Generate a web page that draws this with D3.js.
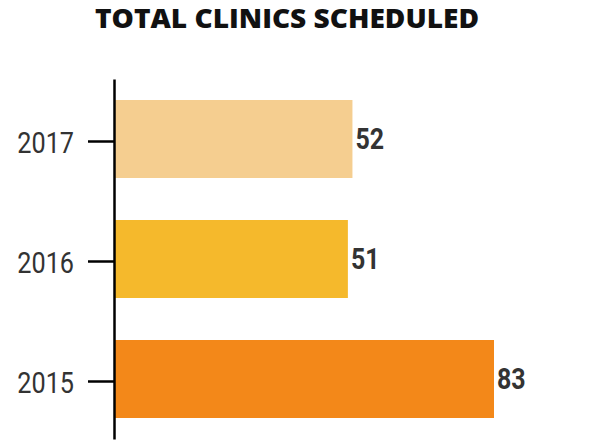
<!DOCTYPE html>
<html>
<head>
<meta charset="utf-8">
<script src="https://cdn.jsdelivr.net/npm/d3@7"></script>
<style>
  body { margin: 0; background: #fff; }
  svg { display: block; }
</style>
</head>
<body>
<div id="chart"></div>
<script>
// 数据
const years = ['2017', '2016', '2015'];
const clinics = [52, 51, 83];
const barColors = ['#f5ce90', '#f5b92c', '#f38819'];
const chartTitle = 'TOTAL CLINICS SCHEDULED';

const width = 589;
const height = 443;

const svg = d3.select('#chart')
    .append('svg')
    .attr('width', width)
    .attr('height', height);

// 标题
svg.append('text')
    .attr('x', 287)
    .attr('y', 28)
    .attr('text-anchor', 'middle')
    .attr('font-family', '"Open Sans", sans-serif')
    .attr('font-weight', 800)
    .attr('font-size', 26)
    .attr('fill', '#111')
    .attr('textLength', 384)
    .attr('lengthAdjust', 'spacingAndGlyphs')
    .text(chartTitle);

// 比例尺
const y = d3.scaleBand()
    .domain(years)
    .range([79, 439])
    .paddingInner(0.35)
    .paddingOuter(0.175);

const x = d3.scaleLinear()
    .domain([0, 83])
    .range([115, 494]);

// 条形
svg.append('g')
    .selectAll('rect')
    .data(years)
    .enter()
    .append('rect')
    .attr('x', x(0))
    .attr('y', d => y(d))
    .attr('width', (d, i) => x(clinics[i]) - x(0))
    .attr('height', y.bandwidth())
    .attr('fill', (d, i) => barColors[i]);

// 数值标签
svg.append('g')
    .selectAll('text')
    .data(years)
    .enter()
    .append('text')
    .attr('x', (d, i) => x(clinics[i]) + 3)
    .attr('y', d => y(d) + y.bandwidth() / 2)
    .attr('dy', '0.34em')
    .attr('font-family', 'Roboto, sans-serif')
    .attr('font-weight', 700)
    .attr('font-size', 29)
    .attr('fill', '#333')
    .text((d, i) => clinics[i])
    .each(function () {
        const w = this.getComputedTextLength();
        d3.select(this).attr('textLength', w * 0.86).attr('lengthAdjust', 'spacingAndGlyphs');
    });

// 纵轴
const axis = svg.append('g')
    .attr('transform', 'translate(114,0)')
    .call(d3.axisLeft(y).tickSize(26).tickPadding(14).tickSizeOuter(0));

axis.select('.domain')
    .attr('stroke', '#000')
    .attr('stroke-width', 2.5);

axis.selectAll('.tick')
    .attr('transform', d => `translate(0,${y(d) + y.bandwidth() / 2 + 2.5})`);

axis.selectAll('.tick line')
    .attr('stroke', '#000')
    .attr('stroke-width', 2.5);

axis.selectAll('.tick text')
    .attr('font-family', 'Roboto, sans-serif')
    .attr('font-weight', 400)
    .attr('font-size', 29)
    .attr('fill', '#333')
    .attr('dy', '0.4em')
    .each(function () {
        const w = this.getComputedTextLength();
        d3.select(this).attr('textLength', w * 0.87).attr('lengthAdjust', 'spacingAndGlyphs');
    });
</script>
</body>
</html>
